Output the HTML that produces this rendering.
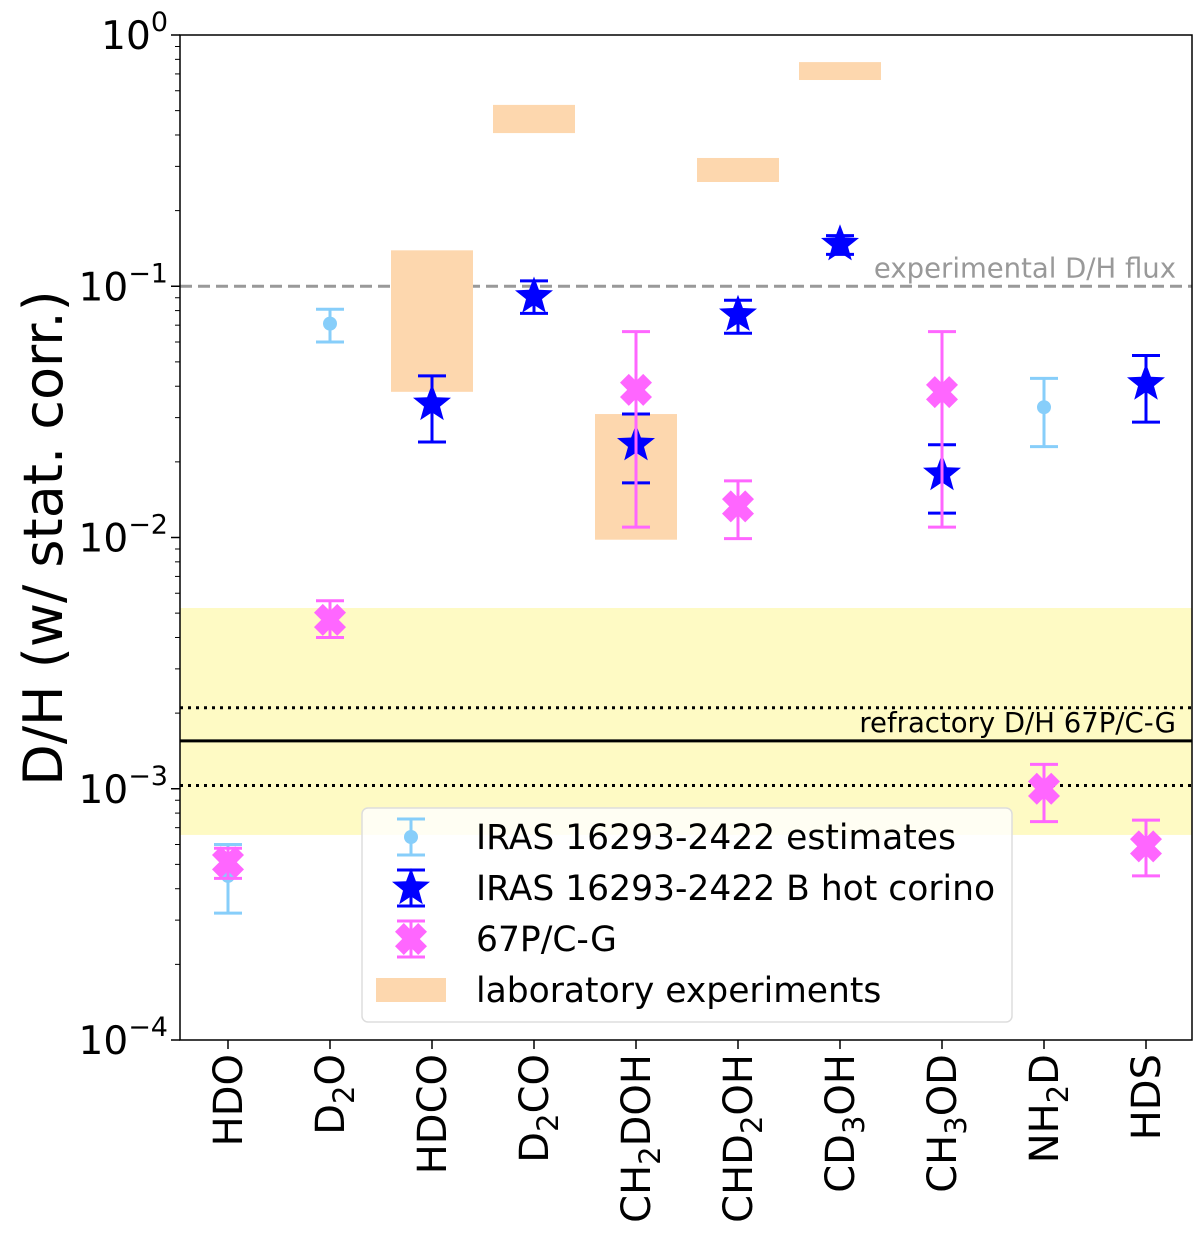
<!DOCTYPE html>
<html><head><meta charset="utf-8"><style>
body{margin:0;background:#fff}
svg text{font-family:"DejaVu Sans","Liberation Sans",sans-serif}
</style></head><body>
<svg id="chart" width="1200" height="1236" xmlns="http://www.w3.org/2000/svg"></svg>
<script>
const categories=["HDO","D2O","HDCO","D2CO","CH2DOH","CHD2OH","CD3OH","CH3OD","NH2D","HDS"];
const catLabels=[["HDO"],["D","2","O"],["HDCO"],["D","2","CO"],["CH","2","DOH"],["CHD","2","OH"],["CD","3","OH"],["CH","3","OD"],["NH","2","D"],["HDS"]];
// [index, value, upper, lower]
const estimates=[[0,4.5e-4,6e-4,3.2e-4],[1,0.071,0.081,0.06],[8,0.033,0.043,0.023]];
const hotCorino=[[2,0.034,0.044,0.024],[3,0.091,0.105,0.078],[4,0.0235,0.031,0.0165],[5,0.077,0.088,0.065],[6,0.147,0.159,0.134],[7,0.0179,0.0234,0.0125],[9,0.041,0.053,0.0288]];
const comet=[[0,5.1e-4,5.8e-4,4.4e-4],[1,4.7e-3,5.6e-3,4.0e-3],[4,0.0387,0.066,0.011],[5,0.0133,0.0168,0.0099],[7,0.0379,0.066,0.011],[8,1e-3,1.25e-3,7.4e-4],[9,5.9e-4,7.5e-4,4.5e-4]];
// [index, high, low]
const labRanges=[[2,0.139,0.038],[3,0.527,0.407],[4,0.031,0.0098],[5,0.324,0.26],[6,0.78,0.662]];
const refractoryBand=[6.55e-4,5.24e-3];
const refractoryValue=1.55e-3;
const refractoryErr=[1.03e-3,2.1e-3];
const fluxValue=0.1;
const yTicks=[0,-1,-2,-3,-4];

const L=180,R=1192,T=35,B=1040;
const X=i=>228+i*102;
const Y=v=>T+(-Math.log10(v))*(B-T)/4;
const svg=document.getElementById('chart');
const NS='http://www.w3.org/2000/svg';
function mk(tag,attrs,parent){const e=document.createElementNS(NS,tag);for(const k in attrs)e.setAttribute(k,attrs[k]);(parent||svg).appendChild(e);return e;}

let g=mk('rect',{x:L,y:Y(refractoryBand[1]),width:R-L,height:Y(refractoryBand[0])-Y(refractoryBand[1]),fill:'#fefac4'});


refractoryErr.forEach(v=>{const l=mk('line',{x1:L,x2:R,y1:Y(v),y2:Y(v),stroke:'#000','stroke-width':3,'stroke-dasharray':'3,5'});

});
g=mk('line',{x1:L,x2:R,y1:Y(refractoryValue),y2:Y(refractoryValue),stroke:'#000','stroke-width':3});


g=mk('text',{x:1176,y:Y(refractoryValue)-9,'font-size':27.5,'text-anchor':'end',fill:'#000'});g.textContent='refractory D/H 67P/C-G';


g=mk('line',{x1:L,x2:R,y1:Y(fluxValue),y2:Y(fluxValue),stroke:'#999','stroke-width':3,'stroke-dasharray':'12,6'});


g=mk('text',{x:1176,y:Y(fluxValue)-9,'font-size':27.5,'text-anchor':'end',fill:'#999'});g.textContent='experimental D/H flux';



labRanges.forEach(d=>{const r=mk('rect',{x:X(d[0])-41,width:82,y:Y(d[1]),height:Y(d[2])-Y(d[1]),fill:'#fdd7ae'});

});

function errbar(d,color,name){const x=X(d[0]);const gg=mk('g',{});


mk('line',{x1:x,x2:x,y1:Y(d[2]),y2:Y(d[3]),stroke:color,'stroke-width':3},gg);
[d[2],d[3]].forEach(v=>mk('line',{x1:x-14,x2:x+14,y1:Y(v),y2:Y(v),stroke:color,'stroke-width':3},gg));return gg;}
function star(cx,cy,r,gg,color){let p=[];for(let k=0;k<10;k++){const a=-Math.PI/2+k*Math.PI/5;const rr=k%2?r*0.42:r;p.push((cx+rr*Math.cos(a)).toFixed(1)+','+(cy+rr*Math.sin(a)).toFixed(1));}mk('polygon',{points:p.join(' '),fill:color},gg);}
function xmark(cx,cy,s,gg,color){const a=s*0.55;const pts=[[-s,-s+a],[-s+a,-s],[0,-a],[s-a,-s],[s,-s+a],[a,0],[s,s-a],[s-a,s],[0,a],[-s+a,s],[-s,s-a],[-a,0]];mk('polygon',{points:pts.map(q=>(cx+q[0])+','+(cy+q[1])).join(' '),fill:color},gg);}

estimates.forEach(d=>{const gg=errbar(d,'#87cefa','estimate');mk('circle',{cx:X(d[0]),cy:Y(d[1]),r:7,fill:'#87cefa'},gg);});
hotCorino.forEach(d=>{const gg=errbar(d,'#0000ff','hot-corino');star(X(d[0]),Y(d[1]),20,gg,'#0000ff');});
comet.forEach(d=>{const gg=errbar(d,'#ff66ff','comet');xmark(X(d[0]),Y(d[1]),16,gg,'#ff66ff');});

// axes
g=mk('rect',{x:L,y:T,width:R-L,height:B-T,fill:'none',stroke:'#000','stroke-width':1.5});


yTicks.forEach(e=>{const y=Y(Math.pow(10,e));mk('line',{x1:L-9,x2:L,y1:y,y2:y,stroke:'#000','stroke-width':1.5});
const t=mk('text',{x:L-12,y:y+14,'font-size':39,'text-anchor':'end'});t.innerHTML='10<tspan dy="-18" font-size="27">'+(e<0?'\u2212'+(-e):'0')+'</tspan>';


if(e>-4)for(let m=2;m<10;m++){const yy=Y(m*Math.pow(10,e-1));mk('line',{x1:L-5,x2:L,y1:yy,y2:yy,stroke:'#000','stroke-width':1});}});
categories.forEach((c,i)=>{const x=X(i);mk('line',{x1:x,x2:x,y1:B,y2:B+9,stroke:'#000','stroke-width':1.5});
const t=mk('text',{transform:`translate(${x+14},${B+14}) rotate(-90)`,'font-size':40,'text-anchor':'end'});
const lb=catLabels[i];if(lb.length===1)t.textContent=lb[0];else t.innerHTML=lb[0]+'<tspan dy="10" font-size="29">'+lb[1]+'</tspan><tspan dy="-10">'+lb[2]+'</tspan>';

});
g=mk('text',{transform:'translate(62,538) rotate(-90)','font-size':54,'text-anchor':'middle'});g.textContent='D/H (w/ stat. corr.)';



// legend
const lg=mk('g',{});


mk('rect',{x:362,y:808,width:650,height:214,rx:6,fill:'#fff','fill-opacity':0.8,stroke:'#ddd','stroke-width':1.5},lg);
const ent=[['IRAS 16293-2422 estimates',837],['IRAS 16293-2422 B hot corino',888],['67P/C-G',939],['laboratory experiments',990]];
ent.forEach((e,k)=>{const eg=mk('g',{},lg);


const cx=411,cy=e[1];
if(k<3){const col=['#87cefa','#0000ff','#ff66ff'][k];mk('line',{x1:cx,x2:cx,y1:cy-18,y2:cy+18,stroke:col,'stroke-width':3},eg);
[cy-18,cy+18].forEach(v=>mk('line',{x1:cx-14,x2:cx+14,y1:v,y2:v,stroke:col,'stroke-width':3},eg));
if(k===0)mk('circle',{cx:cx,cy:cy,r:7,fill:col},eg);if(k===1)star(cx,cy,20,eg,col);if(k===2)xmark(cx,cy,16,eg,col);}
else mk('rect',{x:376,y:cy-12,width:70,height:24,fill:'#fdd7ae'},eg);
const t=mk('text',{x:476,y:cy+12,'font-size':34.5},eg);t.textContent=e[0];});
</script>
</body></html>
